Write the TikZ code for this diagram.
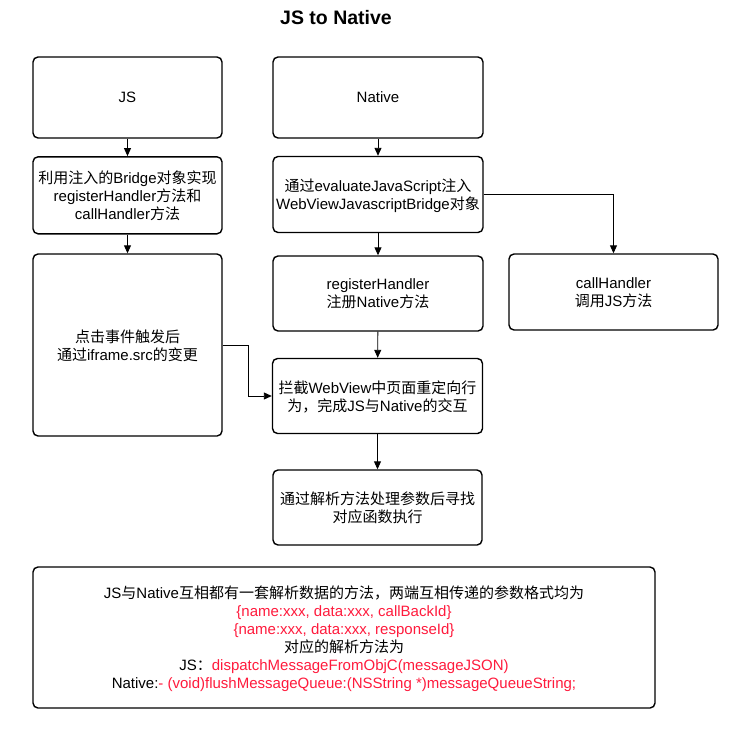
\documentclass[tikz,border=0pt]{standalone}
\usepackage{fontspec}
\setmainfont{Liberation Sans}
\newfontfamily\cjk{Noto Sans CJK SC}
\usetikzlibrary{arrows.meta}
\definecolor{redtxt}{HTML}{FF1A3C}
\newcommand{\zh}[1]{{\cjk #1}}
\begin{document}
\begin{tikzpicture}[x=1pt,y=-1pt,
  box/.style={draw, line width=1.4pt, rounded corners=5pt, align=center,
    font=\fontsize{15}{18}\selectfont, inner sep=2pt, text depth=-1pt},
  conn/.style={line width=0.9pt, -{Triangle[length=8pt,width=7pt]}}]
\useasboundingbox (0,0) rectangle (749,739);
\node[font=\bfseries\fontsize{19.5}{23}\selectfont] (title) at (336,18) {JS to Native};

\node[box, minimum width=189pt, minimum height=81pt] (js) at (127.5,97.5) {JS};
\node[box, minimum width=210pt, minimum height=81pt] (native) at (378,97.5) {Native};

\node[box, minimum width=189pt, minimum height=77pt] (jsimpl) at (127.5,195.3)
  {\zh{利用注入的}Bridge\zh{对象实现}\\registerHandler\zh{方法和}\\callHandler\zh{方法}};
\node[box, minimum width=210pt, minimum height=76pt] (inject) at (378,194.5)
  {\zh{通过}evaluateJavaScript\zh{注入}\\WebViewJavascriptBridge\zh{对象}};

\node[box, minimum width=189pt, minimum height=182pt] (click) at (127.5,345)
  {\zh{点击事件触发后}\\\zh{通过}iframe.src\zh{的变更}};
\node[box, minimum width=210pt, minimum height=75pt] (reg) at (378,293.5)
  {registerHandler\\\zh{注册}Native\zh{方法}};
\node[box, minimum width=209pt, minimum height=76pt] (callh) at (613.5,292)
  {callHandler\\\zh{调用}JS\zh{方法}};

\node[box, minimum width=210pt, minimum height=75pt] (intercept) at (377.5,396)
  {\zh{拦截}WebView\zh{中页面重定向行}\\\zh{为，完成}JS\zh{与}Native\zh{的交互}};
\node[box, minimum width=209pt, minimum height=75pt] (parse) at (377.5,507.5)
  {\zh{通过解析方法处理参数后寻找}\\\zh{对应函数执行}};

\node[box, minimum width=622pt, minimum height=141pt] (bottom) at (344,637.5)
  {JS\zh{与}Native\zh{互相都有一套解析数据的方法，两端互相传递的参数格式均为}\\
   \textcolor{redtxt}{\{name:xxx, data:xxx, callBackId\}}\\
   \textcolor{redtxt}{\{name:xxx, data:xxx, responseId\}}\\
   \zh{对应的解析方法为}\\
   JS\zh{：}\textcolor{redtxt}{dispatchMessageFromObjC(messageJSON)}\\
   Native:\textcolor{redtxt}{- (void)flushMessageQueue:(NSString *)messageQueueString;}};

\draw[conn] (js) -- (jsimpl);
\draw[conn] (jsimpl) -- (click);
\draw[conn] (native) -- (inject);
\draw[conn] (inject) -- (reg);
\draw[conn] (inject.east) -| (callh.north);
\draw[conn] (reg) -- (intercept);
\draw[conn] (intercept) -- (parse);
\draw[conn] (click.east) -- ++(26,0) |- (intercept.west);
\end{tikzpicture}
\end{document}
